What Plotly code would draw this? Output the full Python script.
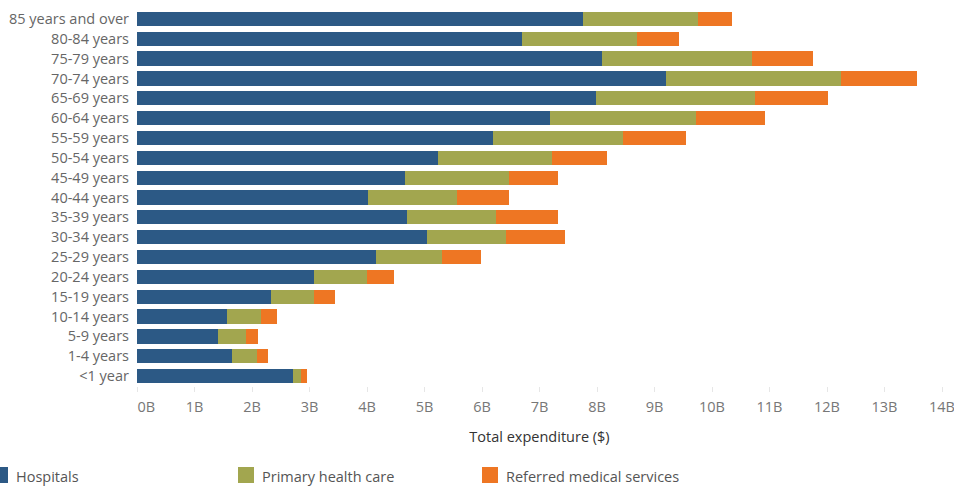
import plotly.graph_objects as go

# Age groups, top to bottom
age_groups = [
    "85 years and over", "80-84 years", "75-79 years", "70-74 years",
    "65-69 years", "60-64 years", "55-59 years", "50-54 years",
    "45-49 years", "40-44 years", "35-39 years", "30-34 years",
    "25-29 years", "20-24 years", "15-19 years", "10-14 years",
    "5-9 years", "1-4 years", "<1 year",
]

# Expenditure by area, in billions of dollars
hospitals = [7.76, 6.70, 8.09, 9.20, 7.99, 7.19, 6.19, 5.24, 4.66, 4.01,
             4.69, 5.05, 4.15, 3.07, 2.33, 1.56, 1.40, 1.65, 2.71]
primary_health_care = [2.00, 1.99, 2.60, 3.04, 2.76, 2.54, 2.27, 1.97, 1.81, 1.56,
                       1.55, 1.37, 1.15, 0.93, 0.74, 0.60, 0.49, 0.44, 0.14]
referred_medical = [0.59, 0.74, 1.06, 1.33, 1.27, 1.19, 1.08, 0.96, 0.86, 0.90,
                    1.09, 1.02, 0.69, 0.47, 0.38, 0.27, 0.22, 0.18, 0.11]

tick_values = list(range(0, 15))
tick_labels = [f"{v}B" for v in tick_values]
# nudge the first label so it sits inside the plot's left edge
tick_labels[0] = "\u00a0" * 5 + tick_labels[0]

series = [
    ("Hospitals", hospitals, "#2C5985"),
    ("Primary health care", primary_health_care, "#A2A64F"),
    ("Referred medical services", referred_medical, "#EE7623"),
]

FONT = "Open Sans, Lato, sans-serif"
W, H = 954, 486
ML, MR, MT, MB = 137, 12, 9, 100
plot_w = W - ML - MR
plot_h = H - MT - MB


def px_to_paper_x(px):
    return (px - ML) / plot_w


def px_to_paper_y(py):
    return (MT + plot_h - py) / plot_h


fig = go.Figure()
for name, values, color in series:
    fig.add_trace(go.Bar(
        y=age_groups,
        x=values,
        name=name,
        orientation="h",
        marker=dict(color=color, line=dict(width=0)),
        hovertemplate="%{y}: %{x:.2f}B<extra>" + name + "</extra>",
        showlegend=False,
    ))

# Legend row below the axis title: a colour swatch followed by its label
legend_left = [-8, 238, 482]
legend_mid_y = 475
swatch = 16
for (name, _, color), left in zip(series, legend_left):
    fig.add_shape(
        type="rect", xref="paper", yref="paper",
        x0=px_to_paper_x(left), x1=px_to_paper_x(left + swatch),
        y0=px_to_paper_y(legend_mid_y + swatch / 2), y1=px_to_paper_y(legend_mid_y - swatch / 2),
        fillcolor=color, line=dict(width=0), layer="above",
    )
    fig.add_annotation(
        text=name, xref="paper", yref="paper",
        x=px_to_paper_x(left + swatch + 6), xanchor="left",
        y=px_to_paper_y(legend_mid_y + 1), yanchor="middle",
        showarrow=False,
        font=dict(size=14.5, color="#555555", family=FONT),
    )

fig.update_layout(
    barmode="stack",
    bargap=0.28,
    width=W,
    height=H,
    margin=dict(l=ML, r=MR, t=MT, b=MB, autoexpand=False),
    paper_bgcolor="white",
    plot_bgcolor="white",
    font=dict(family=FONT, color="#666666", size=14.5),
    showlegend=False,
    xaxis=dict(
        range=[0, 14],
        tickvals=tick_values,
        ticktext=tick_labels,
        showgrid=False,
        zeroline=False,
        showline=False,
        ticks="outside",
        ticklen=5,
        tickcolor="#E6E6E6",
        ticklabelstandoff=3,
        ticklabeloverflow="allow",
        tickfont=dict(size=14.5, color="#777777"),
        title=dict(text="Total expenditure ($)", font=dict(size=14.5, color="#333333"), standoff=16),
    ),
    yaxis=dict(
        categoryorder="array",
        categoryarray=age_groups[::-1],
        showgrid=False,
        zeroline=False,
        showline=False,
        ticks="",
        ticklabelstandoff=7,
        tickfont=dict(size=14.5, color="#666666"),
    ),
)

fig.write_html("out.html")
